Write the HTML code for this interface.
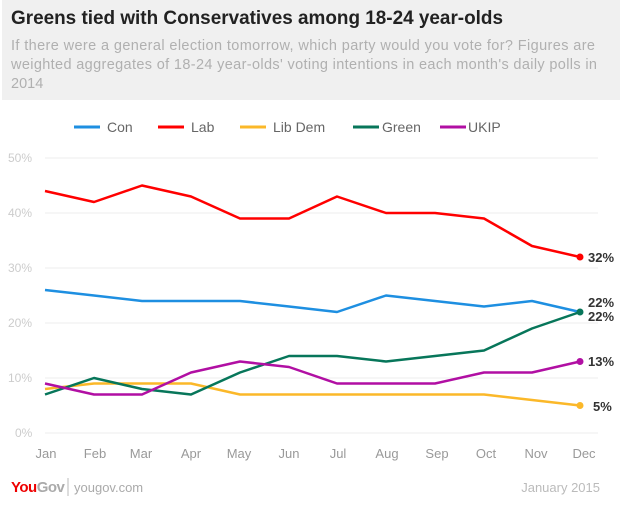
<!DOCTYPE html><html><head><style>body{margin:0;width:620px;height:510px;background:#fff;font-family:"Liberation Sans",sans-serif;overflow:hidden}</style></head><body>
<svg width="620" height="510" xmlns="http://www.w3.org/2000/svg" font-family="Liberation Sans, sans-serif">
<rect x="2" y="0" width="618" height="100" fill="#f0f0f0"/>
<text x="11" y="24" font-size="19.5" font-weight="bold" fill="#222" textLength="492" lengthAdjust="spacingAndGlyphs">Greens tied with Conservatives among 18-24 year-olds</text>
<g font-size="14.5" fill="#b0b0b0"><text x="11" y="50" textLength="584">If there were a general election tomorrow, which party would you vote for? Figures are</text><text x="11" y="69" textLength="586">weighted aggregates of 18-24 year-olds' voting intentions in each month's daily polls in</text><text x="11" y="88">2014</text></g>
<g font-size="14" fill="#666">
<line x1="74" y1="127" x2="100" y2="127" stroke="#1e8fe1" stroke-width="3"/><text x="107" y="132">Con</text>
<line x1="158" y1="127" x2="184" y2="127" stroke="#f00" stroke-width="3"/><text x="191" y="132">Lab</text>
<line x1="240" y1="127" x2="266" y2="127" stroke="#fbb829" stroke-width="3"/><text x="273" y="132">Lib Dem</text>
<line x1="353" y1="127" x2="379" y2="127" stroke="#07765a" stroke-width="3"/><text x="382" y="132">Green</text>
<line x1="440" y1="127" x2="466" y2="127" stroke="#b10fa3" stroke-width="3"/><text x="468" y="132">UKIP</text>
</g>
<g stroke="#eee" stroke-width="1"><line x1="45" y1="158" x2="598" y2="158"/><line x1="45" y1="213" x2="598" y2="213"/><line x1="45" y1="268" x2="598" y2="268"/><line x1="45" y1="323" x2="598" y2="323"/><line x1="45" y1="378" x2="598" y2="378"/><line x1="45" y1="433" x2="598" y2="433"/></g>
<g font-size="12" fill="#ccc"><text x="8" y="162">50%</text><text x="8" y="217">40%</text><text x="8" y="272">30%</text><text x="8" y="327">20%</text><text x="8" y="382">10%</text><text x="15" y="437">0%</text></g>
<g font-size="13" fill="#999" text-anchor="middle"><text x="46" y="458">Jan</text><text x="95" y="458">Feb</text><text x="141" y="458">Mar</text><text x="191" y="458">Apr</text><text x="239" y="458">May</text><text x="289" y="458">Jun</text><text x="338" y="458">Jul</text><text x="387" y="458">Aug</text><text x="437" y="458">Sep</text><text x="486" y="458">Oct</text><text x="536" y="458">Nov</text><text x="584" y="458">Dec</text></g>
<g fill="none" stroke-width="2.5" stroke-linejoin="round">
<polyline stroke="#1e8fe1" points="45,290 94,295.5 142,301 191,301 240,301 289,306.5 337,312 386,295.5 435,301 484,306.5 532,301 580,312"/>
<polyline stroke="#f00" points="45,191 94,202 142,185.5 191,196.5 240,218.5 289,218.5 337,196.5 386,213 435,213 484,218.5 532,246 580,257"/>
<polyline stroke="#fbb829" points="45,389 94,383.5 142,383.5 191,383.5 240,394.5 289,394.5 337,394.5 386,394.5 435,394.5 484,394.5 532,400 580,405.5"/>
<polyline stroke="#07765a" points="45,394.5 94,378 142,389 191,394.5 240,372.5 289,356 337,356 386,361.5 435,356 484,350.5 532,328.5 580,312"/>
<polyline stroke="#b10fa3" points="45,383.5 94,394.5 142,394.5 191,372.5 240,361.5 289,367 337,383.5 386,383.5 435,383.5 484,372.5 532,372.5 580,361.5"/>
</g>
<circle cx="580" cy="257" r="3.5" fill="#f00"/><circle cx="580" cy="312" r="3.5" fill="#07765a"/><circle cx="580" cy="361.5" r="3.5" fill="#b10fa3"/><circle cx="580" cy="405.5" r="3.5" fill="#fbb829"/>
<g font-size="13" font-weight="bold" fill="#333"><text x="588" y="262">32%</text><text x="588" y="307">22%</text><text x="588" y="321">22%</text><text x="588" y="366">13%</text><text x="593" y="411">5%</text></g>
<text x="11" y="492" font-size="15" font-weight="bold" fill="#e00" letter-spacing="-0.5">You<tspan fill="#aaa">Gov</tspan></text>
<line x1="68" y1="478" x2="68" y2="496" stroke="#bbb"/>
<text x="74" y="492" font-size="13" fill="#aaa">yougov.com</text>
<text x="600" y="492" font-size="13" fill="#bbb" text-anchor="end">January 2015</text>
</svg></body></html>
